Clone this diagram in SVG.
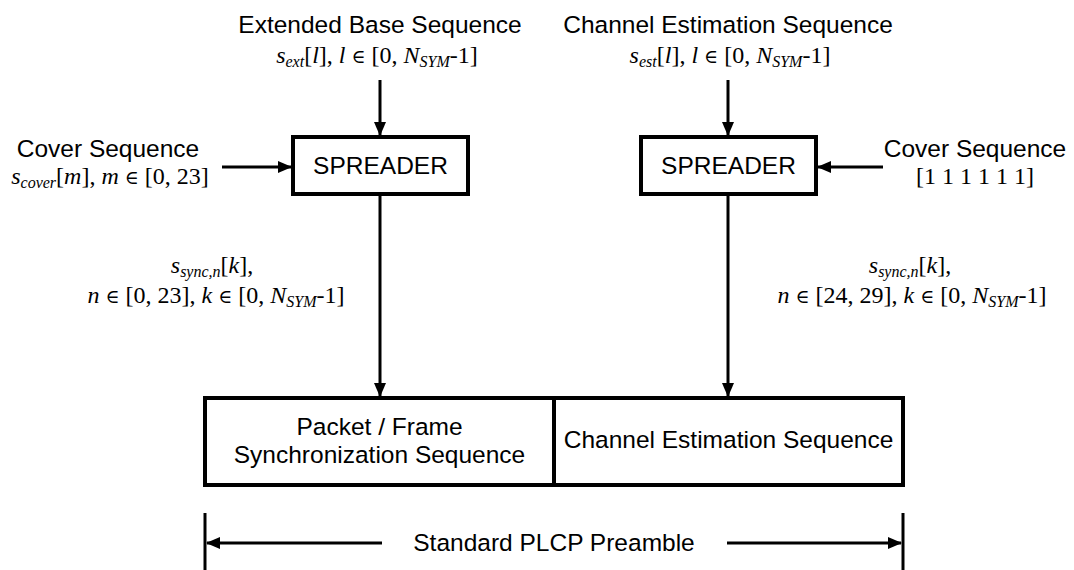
<svg xmlns="http://www.w3.org/2000/svg" width="1074" height="570" viewBox="0 0 1074 570">
<defs>
<marker id="ah" markerUnits="userSpaceOnUse" markerWidth="14" markerHeight="12" refX="13" refY="6" orient="auto">
<path d="M0,0 L14,6 L0,12 z" fill="#000"/>
</marker>
<style>
.sans{font-family:"Liberation Sans",Arial,sans-serif;font-size:24.5px;fill:#000}
.math{font-family:"Liberation Serif","Times New Roman",serif;font-size:24px;fill:#000}
.i{font-style:italic}
.sub{font-size:16px;font-style:italic}
.el{font-family:"DejaVu Serif",serif;font-size:19px}
.box{fill:#fff;stroke:#000;stroke-width:4}
.ln{stroke:#000;stroke-width:3;fill:none}
.arr{stroke:#000;stroke-width:3;fill:none;marker-end:url(#ah)}
</style>
</defs>
<rect width="1074" height="570" fill="#fff"/>

<g id="label-ext">
<text class="sans" x="380" y="33" text-anchor="middle">Extended Base Sequence</text>
<text class="math" x="377" y="63" text-anchor="middle"><tspan class="i">s</tspan><tspan class="sub" dy="4">ext</tspan><tspan dy="-4">[</tspan><tspan class="i">l</tspan>], <tspan class="i">l</tspan> <tspan class="el">∈</tspan> [0, <tspan class="i">N</tspan><tspan class="sub" dy="4">SYM</tspan><tspan dy="-4">-1]</tspan></text>
</g>

<g id="label-est">
<text class="sans" x="728" y="33" text-anchor="middle">Channel Estimation Sequence</text>
<text class="math" x="730" y="63" text-anchor="middle"><tspan class="i">s</tspan><tspan class="sub" dy="4">est</tspan><tspan dy="-4">[</tspan><tspan class="i">l</tspan>], <tspan class="i">l</tspan> <tspan class="el">∈</tspan> [0, <tspan class="i">N</tspan><tspan class="sub" dy="4">SYM</tspan><tspan dy="-4">-1]</tspan></text>
</g>

<g id="label-cover-left">
<text class="sans" x="108" y="157" text-anchor="middle">Cover Sequence</text>
<text class="math" x="110" y="184" text-anchor="middle"><tspan class="i">s</tspan><tspan class="sub" dy="4">cover</tspan><tspan dy="-4">[</tspan><tspan class="i">m</tspan>], <tspan class="i">m</tspan> <tspan class="el">∈</tspan> [0, 23]</text>
</g>

<g id="label-cover-right">
<text class="sans" x="975" y="157" text-anchor="middle">Cover Sequence</text>
<text class="math" x="975" y="184" text-anchor="middle">[1 1 1 1 1 1]</text>
</g>

<g id="spreader-left">
<rect class="box" x="293" y="137" width="175" height="57"/>
<text class="sans" x="380.5" y="174" text-anchor="middle">SPREADER</text>
</g>

<g id="spreader-right">
<rect class="box" x="641" y="137" width="175" height="57"/>
<text class="sans" x="728.5" y="174" text-anchor="middle">SPREADER</text>
</g>

<g id="label-sync-left">
<text class="math" x="212" y="273" text-anchor="middle"><tspan class="i">s</tspan><tspan class="sub" dy="4">sync,n</tspan><tspan dy="-4">[</tspan><tspan class="i">k</tspan>],</text>
<text class="math" x="216" y="303" text-anchor="middle"><tspan class="i">n</tspan> <tspan class="el">∈</tspan> [0, 23], <tspan class="i">k</tspan> <tspan class="el">∈</tspan> [0, <tspan class="i">N</tspan><tspan class="sub" dy="4">SYM</tspan><tspan dy="-4">-1]</tspan></text>
</g>

<g id="label-sync-right">
<text class="math" x="910" y="273" text-anchor="middle"><tspan class="i">s</tspan><tspan class="sub" dy="4">sync,n</tspan><tspan dy="-4">[</tspan><tspan class="i">k</tspan>],</text>
<text class="math" x="912" y="303" text-anchor="middle"><tspan class="i">n</tspan> <tspan class="el">∈</tspan> [24, 29], <tspan class="i">k</tspan> <tspan class="el">∈</tspan> [0, <tspan class="i">N</tspan><tspan class="sub" dy="4">SYM</tspan><tspan dy="-4">-1]</tspan></text>
</g>

<g id="preamble-sync">
<rect class="box" x="205" y="398" width="349" height="87"/>
<text class="sans" x="379.5" y="435" text-anchor="middle">Packet / Frame</text>
<text class="sans" x="379.5" y="463" text-anchor="middle">Synchronization Sequence</text>
</g>

<g id="preamble-est">
<rect class="box" x="554" y="398" width="349" height="87"/>
<text class="sans" x="728.5" y="448" text-anchor="middle">Channel Estimation Sequence</text>
</g>

<g id="preamble-label">
<text class="sans" x="554" y="551" text-anchor="middle">Standard PLCP Preamble</text>
</g>

<g id="connectors">
<line class="arr" x1="380" y1="80" x2="380" y2="135"/>
<line class="arr" x1="728" y1="80" x2="728" y2="135"/>
<line class="arr" x1="222" y1="167" x2="291" y2="167"/>
<line class="arr" x1="883" y1="167" x2="818" y2="167"/>
<line class="arr" x1="380" y1="196" x2="380" y2="396"/>
<line class="arr" x1="728" y1="196" x2="728" y2="396"/>
<line class="arr" x1="382" y1="543" x2="207" y2="543"/>
<line class="arr" x1="727" y1="543" x2="901" y2="543"/>
<line class="ln" x1="205" y1="513" x2="205" y2="570"/>
<line class="ln" x1="903" y1="513" x2="903" y2="570"/>
</g>
</svg>
